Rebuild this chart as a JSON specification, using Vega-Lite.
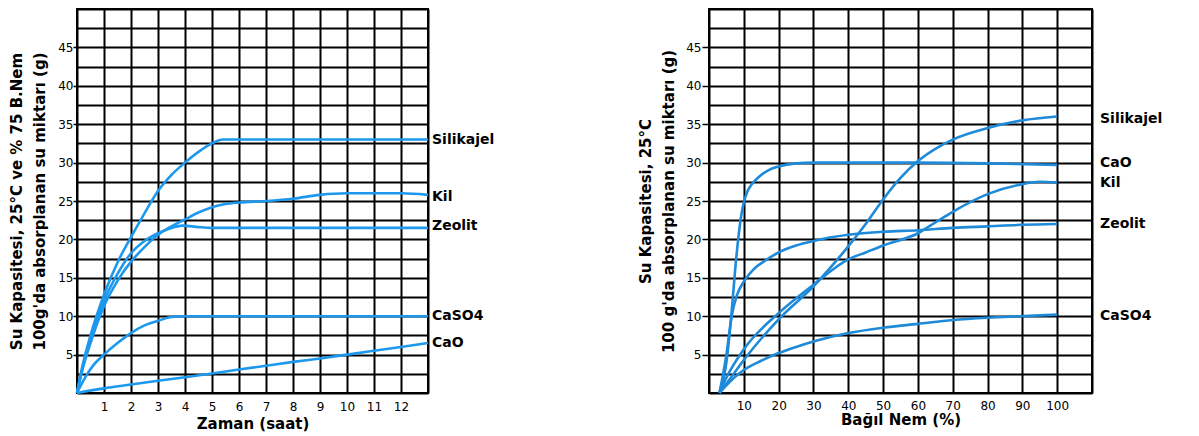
{
  "$schema": "https://vega.github.io/schema/vega-lite/v6.json",
  "background": "white",
  "padding": {"left": 8, "top": 8, "right": 0, "bottom": 0},
  "spacing": 141,
  "config": {
    "view": {"stroke": "black", "strokeWidth": 2},
    "axis": {
      "domain": false, "grid": true, "gridColor": "black", "gridWidth": 2, "gridOpacity": 1,
      "labelFont": "DejaVu Sans", "labelFontSize": 12, "labelColor": "black",
      "titleFont": "DejaVu Sans", "titleFontWeight": "bold", "titleFontSize": 15, "titleColor": "black",
      "tickColor": "black", "tickWidth": 1.5
    }
  },
  "datasets": {
    "left": [
      {"s": "Silikajel", "x": 0, "y": 0}, {"s": "Silikajel", "x": 0.2, "y": 3.5}, {"s": "Silikajel", "x": 0.5, "y": 7.5}, {"s": "Silikajel", "x": 1, "y": 12.8}, {"s": "Silikajel", "x": 1.5, "y": 17}, {"s": "Silikajel", "x": 2, "y": 20.3}, {"s": "Silikajel", "x": 2.5, "y": 23.4}, {"s": "Silikajel", "x": 3, "y": 26.3}, {"s": "Silikajel", "x": 3.5, "y": 28.4}, {"s": "Silikajel", "x": 4, "y": 30}, {"s": "Silikajel", "x": 4.5, "y": 31.4}, {"s": "Silikajel", "x": 5, "y": 32.5}, {"s": "Silikajel", "x": 5.4, "y": 33}, {"s": "Silikajel", "x": 13, "y": 33},
      {"s": "Zeolit", "x": 0, "y": 0}, {"s": "Zeolit", "x": 0.2, "y": 3.2}, {"s": "Zeolit", "x": 0.5, "y": 7}, {"s": "Zeolit", "x": 1, "y": 12}, {"s": "Zeolit", "x": 1.5, "y": 15.5}, {"s": "Zeolit", "x": 2, "y": 18.2}, {"s": "Zeolit", "x": 2.5, "y": 19.8}, {"s": "Zeolit", "x": 3, "y": 20.8}, {"s": "Zeolit", "x": 3.5, "y": 21.5}, {"s": "Zeolit", "x": 3.9, "y": 21.8}, {"s": "Zeolit", "x": 4.5, "y": 21.6}, {"s": "Zeolit", "x": 5, "y": 21.5}, {"s": "Zeolit", "x": 13, "y": 21.5},
      {"s": "Kil", "x": 0, "y": 0}, {"s": "Kil", "x": 0.2, "y": 3}, {"s": "Kil", "x": 0.5, "y": 6.5}, {"s": "Kil", "x": 1, "y": 11.3}, {"s": "Kil", "x": 1.5, "y": 14.6}, {"s": "Kil", "x": 2, "y": 17.1}, {"s": "Kil", "x": 2.5, "y": 19}, {"s": "Kil", "x": 3, "y": 20.6}, {"s": "Kil", "x": 3.5, "y": 21.7}, {"s": "Kil", "x": 4, "y": 22.6}, {"s": "Kil", "x": 4.5, "y": 23.5}, {"s": "Kil", "x": 5, "y": 24.2}, {"s": "Kil", "x": 5.5, "y": 24.6}, {"s": "Kil", "x": 6, "y": 24.8}, {"s": "Kil", "x": 7, "y": 25}, {"s": "Kil", "x": 8, "y": 25.3}, {"s": "Kil", "x": 9, "y": 25.8}, {"s": "Kil", "x": 10, "y": 26}, {"s": "Kil", "x": 12, "y": 26}, {"s": "Kil", "x": 13, "y": 25.8},
      {"s": "CaSO4", "x": 0, "y": 0}, {"s": "CaSO4", "x": 0.3, "y": 2}, {"s": "CaSO4", "x": 0.6, "y": 3.6}, {"s": "CaSO4", "x": 1, "y": 5}, {"s": "CaSO4", "x": 1.5, "y": 6.5}, {"s": "CaSO4", "x": 2, "y": 7.8}, {"s": "CaSO4", "x": 2.5, "y": 8.8}, {"s": "CaSO4", "x": 3, "y": 9.4}, {"s": "CaSO4", "x": 3.5, "y": 9.9}, {"s": "CaSO4", "x": 4, "y": 10}, {"s": "CaSO4", "x": 13, "y": 10},
      {"s": "CaO", "x": 0, "y": 0}, {"s": "CaO", "x": 1, "y": 0.6}, {"s": "CaO", "x": 2, "y": 1.1}, {"s": "CaO", "x": 3, "y": 1.6}, {"s": "CaO", "x": 4, "y": 2.05}, {"s": "CaO", "x": 5, "y": 2.55}, {"s": "CaO", "x": 6, "y": 3.05}, {"s": "CaO", "x": 7, "y": 3.55}, {"s": "CaO", "x": 8, "y": 4.05}, {"s": "CaO", "x": 9, "y": 4.5}, {"s": "CaO", "x": 10, "y": 5}, {"s": "CaO", "x": 11, "y": 5.5}, {"s": "CaO", "x": 12, "y": 6}, {"s": "CaO", "x": 13, "y": 6.5}
    ],
    "right": [
      {"s": "CaO", "x": 3, "y": 0}, {"s": "CaO", "x": 5, "y": 4}, {"s": "CaO", "x": 6.4, "y": 10}, {"s": "CaO", "x": 7.5, "y": 16}, {"s": "CaO", "x": 8.5, "y": 20.5}, {"s": "CaO", "x": 9.3, "y": 23.2}, {"s": "CaO", "x": 10, "y": 24.8}, {"s": "CaO", "x": 11, "y": 26.2}, {"s": "CaO", "x": 12, "y": 27}, {"s": "CaO", "x": 14, "y": 28}, {"s": "CaO", "x": 17, "y": 29}, {"s": "CaO", "x": 20, "y": 29.5}, {"s": "CaO", "x": 25, "y": 29.9}, {"s": "CaO", "x": 30, "y": 30}, {"s": "CaO", "x": 60, "y": 30}, {"s": "CaO", "x": 80, "y": 29.9}, {"s": "CaO", "x": 100, "y": 29.7},
      {"s": "Zeolit", "x": 3, "y": 0}, {"s": "Zeolit", "x": 5, "y": 5}, {"s": "Zeolit", "x": 6.5, "y": 10}, {"s": "Zeolit", "x": 8, "y": 12.7}, {"s": "Zeolit", "x": 10, "y": 14.5}, {"s": "Zeolit", "x": 13, "y": 16.2}, {"s": "Zeolit", "x": 16, "y": 17.2}, {"s": "Zeolit", "x": 20, "y": 18.3}, {"s": "Zeolit", "x": 25, "y": 19.2}, {"s": "Zeolit", "x": 30, "y": 19.8}, {"s": "Zeolit", "x": 40, "y": 20.6}, {"s": "Zeolit", "x": 50, "y": 21}, {"s": "Zeolit", "x": 60, "y": 21.2}, {"s": "Zeolit", "x": 70, "y": 21.5}, {"s": "Zeolit", "x": 80, "y": 21.7}, {"s": "Zeolit", "x": 90, "y": 21.9}, {"s": "Zeolit", "x": 100, "y": 22},
      {"s": "Silikajel", "x": 3, "y": 0}, {"s": "Silikajel", "x": 5, "y": 1.2}, {"s": "Silikajel", "x": 10, "y": 4.3}, {"s": "Silikajel", "x": 20, "y": 9.6}, {"s": "Silikajel", "x": 30, "y": 13.9}, {"s": "Silikajel", "x": 40, "y": 19.1}, {"s": "Silikajel", "x": 45, "y": 22}, {"s": "Silikajel", "x": 50, "y": 25.2}, {"s": "Silikajel", "x": 55, "y": 28}, {"s": "Silikajel", "x": 60, "y": 30.2}, {"s": "Silikajel", "x": 65, "y": 31.8}, {"s": "Silikajel", "x": 70, "y": 33}, {"s": "Silikajel", "x": 80, "y": 34.5}, {"s": "Silikajel", "x": 90, "y": 35.5}, {"s": "Silikajel", "x": 100, "y": 36},
      {"s": "Kil", "x": 3, "y": 0}, {"s": "Kil", "x": 5, "y": 2}, {"s": "Kil", "x": 10, "y": 5.7}, {"s": "Kil", "x": 20, "y": 10.4}, {"s": "Kil", "x": 30, "y": 14.1}, {"s": "Kil", "x": 40, "y": 17.4}, {"s": "Kil", "x": 45, "y": 18.3}, {"s": "Kil", "x": 50, "y": 19.2}, {"s": "Kil", "x": 60, "y": 20.8}, {"s": "Kil", "x": 65, "y": 22.2}, {"s": "Kil", "x": 70, "y": 23.6}, {"s": "Kil", "x": 80, "y": 25.9}, {"s": "Kil", "x": 90, "y": 27.2}, {"s": "Kil", "x": 95, "y": 27.5}, {"s": "Kil", "x": 100, "y": 27.4},
      {"s": "CaSO4", "x": 3, "y": 0}, {"s": "CaSO4", "x": 5, "y": 1}, {"s": "CaSO4", "x": 10, "y": 3}, {"s": "CaSO4", "x": 15, "y": 4.2}, {"s": "CaSO4", "x": 20, "y": 5.2}, {"s": "CaSO4", "x": 25, "y": 6}, {"s": "CaSO4", "x": 30, "y": 6.7}, {"s": "CaSO4", "x": 40, "y": 7.8}, {"s": "CaSO4", "x": 50, "y": 8.5}, {"s": "CaSO4", "x": 60, "y": 9}, {"s": "CaSO4", "x": 70, "y": 9.5}, {"s": "CaSO4", "x": 80, "y": 9.8}, {"s": "CaSO4", "x": 90, "y": 10}, {"s": "CaSO4", "x": 100, "y": 10.2}
    ],
    "leftLab": [
      {"s": "Silikajel", "x": 13, "y": 33},
      {"s": "Kil", "x": 13, "y": 25.5},
      {"s": "Zeolit", "x": 13, "y": 21.8},
      {"s": "CaSO4", "x": 13, "y": 10},
      {"s": "CaO", "x": 13, "y": 6.5}
    ],
    "rightLab": [
      {"s": "Silikajel", "x": 110, "y": 35.7},
      {"s": "CaO", "x": 110, "y": 29.9},
      {"s": "Kil", "x": 110, "y": 27.3},
      {"s": "Zeolit", "x": 110, "y": 22},
      {"s": "CaSO4", "x": 110, "y": 10}
    ]
  },
  "hconcat": [
    {
      "width": 351, "height": 384,
      "encoding": {
        "x": {"field": "x", "type": "quantitative", "scale": {"domain": [0, 13], "nice": false},
          "axis": {"values": [0,1,2,3,4,5,6,7,8,9,10,11,12,13], "labelExpr": "datum.value >= 1 && datum.value <= 12 ? datum.label : ''", "ticks": false, "labelPadding": 8, "title": "Zaman (saat)", "titlePadding": 4}},
        "y": {"field": "y", "type": "quantitative", "scale": {"domain": [0, 50], "nice": false},
          "axis": {"values": [0,2.5,5,7.5,10,12.5,15,17.5,20,22.5,25,27.5,30,32.5,35,37.5,40,42.5,45,47.5,50],
            "labelExpr": "datum.value % 5 == 0 && datum.value > 0 && datum.value < 50 ? datum.label : ''",
            "tickOpacity": {"condition": {"test": "datum.value % 5 == 0 && datum.value > 0 && datum.value < 50", "value": 1}, "value": 0},
            "tickSize": 4, "labelPadding": 0,
            "title": ["Su Kapasitesi, 25°C ve % 75 B.Nem", "100g'da absorplanan su miktarı (g)"],
            "titleLineHeight": 23, "titlePadding": 10}}
      },
      "layer": [
        {
          "data": {"name": "left"},
          "mark": {"type": "line", "interpolate": "monotone", "color": "#1c98ee", "strokeWidth": 2.6},
          "encoding": {"detail": {"field": "s"}}
        },
        {
          "data": {"name": "leftLab"},
          "mark": {"type": "text", "align": "left", "baseline": "middle", "dx": 4, "font": "DejaVu Sans", "fontWeight": "bold", "fontSize": 14, "color": "black"},
          "encoding": {"text": {"field": "s"}}
        }
      ]
    },
    {
      "width": 383, "height": 384,
      "encoding": {
        "x": {"field": "x", "type": "quantitative", "scale": {"domain": [0, 110], "nice": false},
          "axis": {"values": [0,10,20,30,40,50,60,70,80,90,100,110], "labelExpr": "datum.value >= 10 && datum.value <= 100 ? datum.label : ''", "ticks": false, "labelPadding": 7, "title": "Bağıl Nem (%)", "titlePadding": 1}},
        "y": {"field": "y", "type": "quantitative", "scale": {"domain": [0, 50], "nice": false},
          "axis": {"values": [0,2.5,5,7.5,10,12.5,15,17.5,20,22.5,25,27.5,30,32.5,35,37.5,40,42.5,45,47.5,50],
            "labelExpr": "datum.value % 5 == 0 && datum.value > 0 && datum.value < 50 ? datum.label : ''",
            "tickOpacity": {"condition": {"test": "datum.value % 5 == 0 && datum.value > 0 && datum.value < 50", "value": 1}, "value": 0},
            "tickSize": 7, "labelPadding": 1,
            "title": ["Su Kapasitesi, 25°C", "100 g'da absorplanan su miktarı (g)"],
            "titleLineHeight": 23, "titlePadding": 9}}
      },
      "layer": [
        {
          "data": {"name": "right"},
          "mark": {"type": "line", "interpolate": "monotone", "color": "#1e8ad9", "strokeWidth": 2.6},
          "encoding": {"detail": {"field": "s"}}
        },
        {
          "data": {"name": "rightLab"},
          "mark": {"type": "text", "align": "left", "baseline": "middle", "dx": 8, "font": "DejaVu Sans", "fontWeight": "bold", "fontSize": 14, "color": "black"},
          "encoding": {"text": {"field": "s"}}
        }
      ]
    }
  ]
}
